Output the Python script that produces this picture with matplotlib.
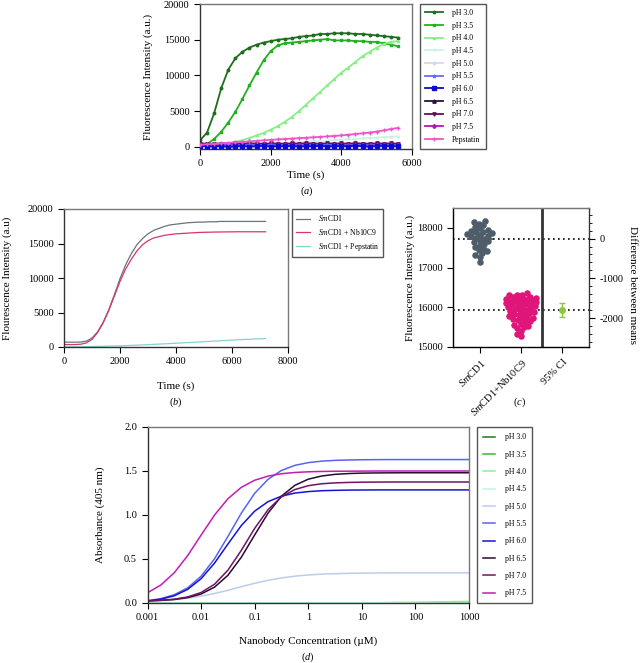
import numpy as np
import matplotlib
matplotlib.use("Agg")
import matplotlib.pyplot as plt
from matplotlib.ticker import MultipleLocator, FixedLocator, NullLocator

plt.rcParams['font.family'] = ['Liberation Serif', 'DejaVu Serif']
plt.rcParams['mathtext.fontset'] = 'custom'
plt.rcParams['mathtext.rm'] = 'Liberation Serif'
plt.rcParams['mathtext.it'] = 'Liberation Serif:italic'
plt.rcParams['axes.unicode_minus'] = False
plt.rcParams['xtick.labelsize'] = 7.5
plt.rcParams['ytick.labelsize'] = 7.5
plt.rcParams['xtick.major.size'] = 4
plt.rcParams['ytick.major.size'] = 4

# ---------------- panel (a): kinetics at different pH ----------------
time_a = np.arange(0, 5601, 200)
ph_labels_a = ["pH 3.0", "pH 3.5", "pH 4.0", "pH 4.5", "pH 5.0", "pH 5.5",
               "pH 6.0", "pH 6.5", "pH 7.0", "pH 7.5", "Pepstatin"]
ph30_a = [900, 2000, 4700, 8200, 10800, 12400, 13300, 13900, 14300, 14600, 14800, 15000, 15100, 15200,
          15400, 15500, 15600, 15800, 15800, 15900, 15900, 15900, 15800, 15800, 15700, 15600, 15500, 15400, 15300]
ph35_a = [100, 400, 1100, 2100, 3400, 4900, 6700, 8600, 10400, 12100, 13400, 14200, 14500, 14600,
          14700, 14800, 14900, 15000, 15100, 14900, 14900, 14900, 14800, 14800, 14700, 14700, 14500, 14300, 14100]
ph40_a = [0, 80, 180, 300, 480, 700, 950, 1250, 1600, 1950, 2400, 2900, 3500, 4200,
          5000, 5900, 6800, 7700, 8600, 9500, 10400, 11100, 11900, 12700, 13300, 13900, 14400, 14700, 14800]
ph45_a = [0, 40, 90, 130, 170, 210, 260, 300, 350, 400, 450, 500, 550, 600,
          650, 700, 760, 820, 880, 940, 1000, 1060, 1120, 1180, 1240, 1300, 1350, 1400, 1450]
ph50_a = [50, 80, 30, 100, 60, 20, 90, 40, 110, 70, 30, 100, 50, 120,
          60, 20, 90, 140, 60, 30, 110, 80, 40, 120, 70, 30, 100, 60, 90]
ph55_a = [250, 220, 180, 260, 210, 170, 240, 200, 280, 190, 230, 170, 260, 210,
          190, 250, 220, 180, 270, 200, 230, 190, 260, 210, 180, 240, 220, 200, 250]
ph60_a = [150, 80, 40, 120, -20, 60, 130, 20, 90, 160, 30, 100, 70, 140,
          10, 110, 60, 150, 40, 90, 130, 50, 170, 80, 20, 120, 160, 60, 100]
ph65_a = [500, 430, 380, 420, 350, 400, 370, 420, 390, 350, 410, 380, 360, 420,
          400, 370, 430, 390, 360, 410, 380, 420, 400, 370, 430, 390, 410, 380, 420]
ph70_a = [350, 420, 450, 470, 440, 480, 450, 500, 470, 440, 490, 460, 430, 480,
          450, 500, 470, 440, 490, 460, 480, 450, 500, 470, 440, 490, 460, 480, 450]
ph75_a = [300, 260, 320, 280, 240, 310, 270, 330, 290, 250, 320, 280, 300, 260,
          310, 270, 330, 290, 250, 300, 280, 320, 260, 300, 270, 310, 290, 250, 300]
pep_a = [300, 360, 420, 490, 560, 630, 700, 770, 840, 910, 980, 1040, 1100, 1160,
         1220, 1280, 1340, 1400, 1460, 1530, 1600, 1700, 1800, 1900, 2000, 2150, 2300, 2500, 2650]

# ---------------- panel (b): SmCD1 kinetics ----------------
time_b = np.arange(0, 7201, 200)
labels_b = [r"$\mathit{Sm}$CD1", r"$\mathit{Sm}$CD1 + Nb10C9", r"$\mathit{Sm}$CD1 + Pepstatin"]
smcd1_b = [700, 700, 700, 720, 850, 1300, 2200, 3600, 5400, 7600, 9900, 11900, 13500, 14800,
           15700, 16400, 16900, 17200, 17500, 17700, 17800, 17900, 18000, 18050, 18100, 18100, 18150, 18150,
           18200, 18200, 18200, 18200, 18200, 18200, 18200, 18200, 18200]
nb10c9_b = [350, 350, 360, 400, 600, 1100, 2100, 3500, 5300, 7400, 9500, 11300, 12700, 13900,
            14800, 15400, 15800, 16000, 16200, 16300, 16400, 16450, 16500, 16550, 16600, 16620, 16640, 16660,
            16670, 16680, 16690, 16700, 16700, 16700, 16700, 16700, 16700]
pep_b = [30, 35, 40, 50, 60, 75, 90, 105, 125, 150, 175, 205, 235, 270,
         305, 340, 380, 420, 460, 500, 545, 590, 635, 680, 725, 770, 815, 860,
         905, 950, 995, 1040, 1080, 1120, 1160, 1190, 1220]

# ---------------- panel (c): end-point comparison ----------------
smcd1_c = [18175, 18145, 18105, 18065, 18025, 17985, 17955, 17925, 17905, 17885,
           17865, 17845, 17825, 17805, 17785, 17755, 17725, 17695, 17665, 17635,
           17605, 17565, 17525, 17485, 17445, 17405, 17365, 17315, 17265, 17145]
nb10c9_c = [16350, 16320, 16300, 16270, 16240, 16220, 16200, 16180, 16160, 16140,
            16110, 16080, 16050, 16020, 15990, 15960, 15940, 15920, 15900, 15880,
            15860, 15840, 15820, 15800, 15780, 15760, 15740, 15720, 15700, 15680,
            15650, 15620, 15590, 15560, 15530, 15500, 15470, 15400, 15330, 15280,
            16300, 16260, 16230, 16190, 16170, 16130, 16100, 16060, 16030, 16000]
ci_half = 170
labels_c = [r"$\mathit{Sm}$CD1", r"$\mathit{Sm}$CD1+Nb10C9", "95% CI"]

# ---------------- panel (d): binding curves ----------------
conc_d = [0.001, 0.00178, 0.00316, 0.00562, 0.01, 0.0178, 0.0316, 0.0562, 0.1, 0.178, 0.316, 0.562,
          1, 1.78, 3.16, 5.62, 10, 17.8, 31.6, 56.2, 100, 178, 316, 562, 1000]
ph_labels_d = ["pH 3.0", "pH 3.5", "pH 4.0", "pH 4.5", "pH 5.0", "pH 5.5",
               "pH 6.0", "pH 6.5", "pH 7.0", "pH 7.5"]
ph30_d = [0, 0, 0, 0, 0, 0, 0, 0, 0, 0, 0, 0, 0, 0, 0, 0, 0, 0, 0, 0.001, 0.001, 0.002, 0.003, 0.004, 0.005]
ph35_d = [0, 0, 0, 0, 0, 0, 0, 0, 0, 0, 0, 0, 0, 0, 0, 0, 0, 0, 0, 0, 0, 0.001, 0.001, 0.002, 0.003]
ph40_d = [0, 0, 0, 0, 0, 0, 0, 0, 0, 0, 0, 0, 0.001, 0.001, 0.002, 0.002, 0.002, 0.003, 0.005, 0.007,
          0.009, 0.011, 0.014, 0.016, 0.018]
ph45_d = [0.004, 0.004, 0.004, 0.004, 0.004, 0.004, 0.004, 0.004, 0.004, 0.004, 0.004, 0.004, 0.004,
          0.004, 0.004, 0.004, 0.004, 0.004, 0.004, 0.004, 0.004, 0.004, 0.004, 0.004, 0.004]
ph50_d = [0.022, 0.028, 0.039, 0.055, 0.078, 0.108, 0.144, 0.185, 0.224, 0.258, 0.285, 0.305, 0.319,
          0.328, 0.333, 0.337, 0.339, 0.341, 0.342, 0.343, 0.343, 0.343, 0.343, 0.343, 0.343]
ph55_d = [0.026, 0.050, 0.094, 0.172, 0.304, 0.502, 0.755, 1.020, 1.246, 1.406, 1.506, 1.564, 1.595,
          1.612, 1.621, 1.625, 1.628, 1.629, 1.63, 1.63, 1.63, 1.63, 1.63, 1.63, 1.63]
ph60_d = [0.022, 0.043, 0.082, 0.155, 0.276, 0.453, 0.669, 0.879, 1.044, 1.152, 1.214, 1.249, 1.266,
          1.276, 1.280, 1.283, 1.284, 1.285, 1.285, 1.285, 1.285, 1.285, 1.285, 1.285, 1.285]
ph65_d = [0.025, 0.030, 0.040, 0.061, 0.102, 0.180, 0.314, 0.519, 0.773, 1.022, 1.214, 1.337, 1.407,
          1.443, 1.462, 1.471, 1.476, 1.478, 1.479, 1.48, 1.48, 1.48, 1.48, 1.48, 1.48]
ph70_d = [0.025, 0.031, 0.043, 0.069, 0.119, 0.213, 0.372, 0.597, 0.848, 1.061, 1.206, 1.289, 1.333,
          1.355, 1.365, 1.370, 1.373, 1.374, 1.375, 1.375, 1.375, 1.375, 1.375, 1.375, 1.375]
ph75_d = [0.116, 0.205, 0.344, 0.539, 0.771, 0.999, 1.184, 1.314, 1.395, 1.442, 1.469, 1.483, 1.491,
          1.495, 1.497, 1.498, 1.499, 1.5, 1.5, 1.5, 1.5, 1.5, 1.5, 1.5, 1.5]

# colours
cols_a = ["#1e6e1e", "#22b022", "#88ee88", "#c8f4e4", "#d0dcec", "#6a6aff",
          "#0a0ad0", "#2a1038", "#6a0a5a", "#b418b4", "#ee55cc"]
marks_a = ["o", "s", "^", "v", "D", "*", "s", "^", "v", "D", "+"]
msize_a = [1.8, 1.8, 1.6, 1.6, 1.6, 2.5, 2.6, 2.4, 2.4, 2.0, 2.4]
zord_a = [2, 2, 2, 2, 2, 3.2, 3.4, 2.5, 2.5, 2.5, 3.6]
cols_b = ["#68737e", "#d8356f", "#86d2d2"]
cols_d = ["#1a7a1a", "#2ec02e", "#8ef08e", "#c8f2e8", "#bccdea", "#5865e8",
          "#1414d4", "#2a0c2e", "#6e1466", "#c21cb4"]

W, H = 640, 663
fig = plt.figure(figsize=(W / 100, H / 100), dpi=100)


def rect(l, t, r, b):
    return [l / W, 1 - b / H, (r - l) / W, (b - t) / H]


def ftext(x, y, s, **kw):
    kw.setdefault('ha', 'center')
    kw.setdefault('va', 'center')
    fig.text(x / W, 1 - y / H, s, **kw)


def style_spines(ax):
    ax.spines['left'].set_color('#333333')
    ax.spines['bottom'].set_color('#333333')
    ax.spines['top'].set_color('#777777')
    ax.spines['right'].set_color('#777777')
    for s in ax.spines.values():
        s.set_linewidth(1.0)


def swarm_x(values, center, px_per_x, px_per_y, diam, max_off=15):
    # simple beeswarm: place points by value, nearest free horizontal offset
    order = np.argsort(values)
    placed = []
    out = np.zeros(len(values))
    cands = sorted(np.arange(-max_off, max_off + 0.01, 0.5), key=abs)
    for i in order:
        yp = values[i] * px_per_y
        best, best_d = 0.0, -1.0
        for c in cands:
            d = min([np.hypot(c - px, yp - py) for px, py in placed] or [1e9])
            if d >= diam:
                best = c
                break
            if d > best_d:
                best, best_d = c, d
        placed.append((best, yp))
        out[i] = center + best / px_per_x
    return out


# ---- (a)
ax_a = fig.add_axes(rect(200, 4, 412, 149))
series_a = [ph30_a, ph35_a, ph40_a, ph45_a, ph50_a, ph55_a, ph60_a, ph65_a, ph70_a, ph75_a, pep_a]
for lab, vals, c, m, ms, z in zip(ph_labels_a, series_a, cols_a, marks_a, msize_a, zord_a):
    ax_a.plot(time_a, vals, color=c, marker=m, ms=ms, lw=1.3, label=lab, zorder=z)
ax_a.set_xlim(0, 6000)
ax_a.set_ylim(-300, 20000)
ax_a.set_xticks([0, 2000, 4000, 6000])
ax_a.set_yticks([0, 5000, 10000, 15000, 20000])
style_spines(ax_a)
ax_a.legend(loc='upper left', bbox_to_anchor=(420 / W, 1 - 4 / H), bbox_transform=fig.transFigure,
            fontsize=5.6, fancybox=False, edgecolor='#555555', framealpha=1, handlelength=2.3,
            labelspacing=0.6, borderpad=0.65, handletextpad=1.2, borderaxespad=0)
ftext(148, 77, "Fluorescence Intensity (a.u.)", rotation=90, fontsize=8)
ftext(306, 175, "Time (s)", fontsize=8)
ftext(307, 191, r"($\mathit{a}$)", fontsize=7.5)

# ---- (b)
ax_b = fig.add_axes(rect(64, 209, 288, 347))
for lab, vals, c in zip(labels_b, [smcd1_b, nb10c9_b, pep_b], cols_b):
    ax_b.plot(time_b, vals, color=c, lw=0.9, label=lab)
ax_b.set_xlim(0, 8000)
ax_b.set_ylim(0, 20000)
ax_b.set_xticks([0, 2000, 4000, 6000, 8000])
ax_b.set_yticks([0, 5000, 10000, 15000, 20000])
style_spines(ax_b)
ax_b.legend(loc='upper left', bbox_to_anchor=(292 / W, 1 - 209 / H), bbox_transform=fig.transFigure,
            fontsize=5.5, fancybox=False, edgecolor='#555555', framealpha=1, handlelength=1.8,
            labelspacing=0.5, borderpad=0.55, handletextpad=1.0, borderaxespad=0)
ftext(7, 278, "Flourescence Intensity (a.u)", rotation=90, fontsize=8)
ftext(176, 386, "Time (s)", fontsize=8)
ftext(176, 402, r"($\mathit{b}$)", fontsize=7.5)

# ---- (c)
c_l, c_t, c_r, c_b = 453, 208, 589, 347
ax_c = fig.add_axes(rect(c_l, c_t, c_r, c_b))
xlim_c = (-0.65, 2.65)
ylim_c = (15000, 18500)
ax_c.set_xlim(*xlim_c)
ax_c.set_ylim(*ylim_c)
ppx = (c_r - c_l) / (xlim_c[1] - xlim_c[0])
ppy = (c_b - c_t) / (ylim_c[1] - ylim_c[0])
m1 = np.mean(smcd1_c)
m2 = np.mean(nb10c9_c)
x1 = swarm_x(np.array(smcd1_c, float), 0, ppx, ppy, 4.6)
x2 = swarm_x(np.array(nb10c9_c, float), 1, ppx, ppy, 4.6)
ax_c.scatter(x1, smcd1_c, s=22, color="#4f5d6b", lw=0, zorder=3)
ax_c.scatter(x2, nb10c9_c, s=22, color="#e0157a", lw=0, zorder=3)
ax_c.hlines(m1, -0.32, 0.32, color="#4f5d6b", lw=1.3, zorder=4)
ax_c.hlines(m2, 0.68, 1.32, color="#e0157a", lw=1.3, zorder=4)
for m in (m1, m2):
    ax_c.plot([xlim_c[0], 2.75], [m, m], ls=(0, (1, 2)), color='k', lw=1.2, clip_on=False, zorder=2)
ax_c.axvline(1.5, color='#333333', lw=2)
ax_c.set_yticks([15000, 16000, 17000, 18000])
ax_c.set_xticks([0, 1, 2])
ax_c.set_xticklabels(labels_c, rotation=45, ha='right', rotation_mode='anchor')
style_spines(ax_c)
ax_c2 = ax_c.twinx()
ax_c2.set_ylim(ylim_c[0] - m1, ylim_c[1] - m1)
ax_c2.set_yticks([0, -1000, -2000])
ax_c2.yaxis.set_minor_locator(MultipleLocator(200))
ax_c2.tick_params(axis='y', which='minor', length=2)
ax_c2.errorbar([2], [m2 - m1], yerr=[ci_half], fmt='o', color="#8dc63f", ms=4, capsize=2, lw=1, zorder=5)
ax_c2.spines['right'].set_color('#333333')
ax_c2.spines['top'].set_color('#777777')
ftext(410, 278, "Fluorescence Intensity (a.u.)", rotation=90, fontsize=8)
ftext(633, 285, "Difference between means", rotation=270, fontsize=8)
ftext(519, 402, r"($\mathit{c}$)", fontsize=7.5)

# ---- (d)
ax_d = fig.add_axes(rect(147.5, 427, 469, 603))
series_d = [ph30_d, ph35_d, ph40_d, ph45_d, ph50_d, ph55_d, ph60_d, ph65_d, ph70_d, ph75_d]
for lab, vals, c in zip(ph_labels_d, series_d, cols_d):
    ax_d.plot(conc_d, vals, color=c, lw=1.1, label=lab)
ax_d.set_xscale('log')
ax_d.set_xlim(0.001, 1000)
ax_d.set_ylim(0, 2)
ax_d.xaxis.set_major_locator(FixedLocator([0.001, 0.01, 0.1, 1, 10, 100, 1000]))
ax_d.xaxis.set_minor_locator(NullLocator())
ax_d.set_xticklabels(["0.001", "0.01", "0.1", "1", "10", "100", "1000"])
ax_d.set_yticks([0, 0.5, 1.0, 1.5, 2.0])
ax_d.set_yticklabels(["0.0", "0.5", "1.0", "1.5", "2.0"])
style_spines(ax_d)
ax_d.legend(loc='upper left', bbox_to_anchor=(477 / W, 1 - 427 / H), bbox_transform=fig.transFigure,
            fontsize=5.6, fancybox=False, edgecolor='#555555', framealpha=1, handlelength=1.5,
            labelspacing=1.2, borderpad=0.8, handletextpad=1.3, borderaxespad=0)
ftext(100, 515, "Absorbance (405 nm)", rotation=90, fontsize=8)
ftext(308, 641, "Nanobody Concentration (\u00b5M)", fontsize=8)
ftext(308, 657, r"($\mathit{d}$)", fontsize=7.5)

fig.savefig("out.png", dpi=100)
